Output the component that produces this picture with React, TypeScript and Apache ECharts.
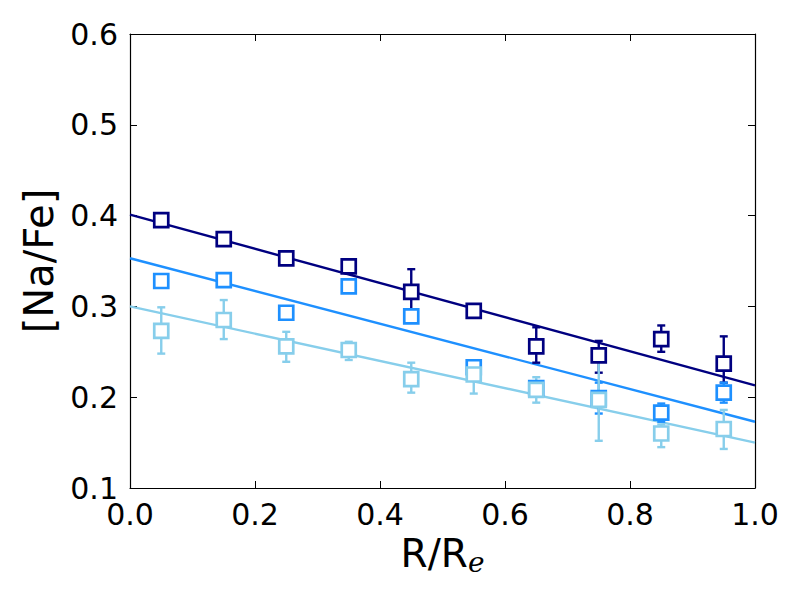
import React, { useEffect, useRef } from "react";
import * as echarts from "echarts";

const radii = [0.05, 0.15, 0.25, 0.35, 0.45, 0.55, 0.65, 0.75, 0.85, 0.95];

const darkY = [0.395, 0.374, 0.353, 0.344, 0.316, 0.295, 0.256, 0.246, 0.264, 0.237];
const darkErrUp = [0.004, 0.004, 0.004, 0.008, 0.025, 0.004, 0.021, 0.016, 0.015, 0.030];
const darkErrDn = [0.004, 0.004, 0.004, 0.008, 0.020, 0.004, 0.018, 0.019, 0.014, 0.021];

const midY = [0.328, 0.329, 0.293, 0.322, 0.289, 0.233, 0.210, 0.199, 0.183, 0.205];
const midErrUp = [0.006, 0.005, 0.005, 0.005, 0.005, 0.005, 0.006, 0.017, 0.010, 0.011];
const midErrDn = [0.006, 0.005, 0.005, 0.005, 0.005, 0.005, 0.006, 0.017, 0.010, 0.011];

const lightY = [0.273, 0.285, 0.256, 0.252, 0.220, 0.225, 0.208, 0.197, 0.160, 0.165];
const lightErrUp = [0.026, 0.022, 0.016, 0.009, 0.018, 0.010, 0.014, 0.045, 0.010, 0.021];
const lightErrDn = [0.025, 0.021, 0.017, 0.011, 0.015, 0.021, 0.014, 0.045, 0.015, 0.022];

const fitX = [0, 1];
const darkFit = [0.401, 0.213];
const midFit = [0.353, 0.173];
const lightFit = [0.3, 0.15];

const xTicks = ["0.0", "0.2", "0.4", "0.6", "0.8", "1.0"];
const yTicks = ["0.1", "0.2", "0.3", "0.4", "0.5", "0.6"];

const DARK = "#000080";
const MID = "#1E90FF";
const LIGHT = "#87CEEB";

function errData(y: number[], up: number[], dn: number[]) {
  return radii.map((x, i) => [x, y[i] - dn[i], y[i] + up[i]]);
}

function errSeries(name: string, color: string, y: number[], up: number[], dn: number[]) {
  return {
    type: "custom",
    name,
    z: 3,
    data: errData(y, up, dn),
    renderItem: (params: any, api: any) => {
      const x = api.value(0);
      const lo = api.coord([x, api.value(1)]);
      const hi = api.coord([x, api.value(2)]);
      const cap = 4;
      const style = { stroke: color, lineWidth: 2.4 };
      return {
        type: "group",
        children: [
          { type: "line", shape: { x1: lo[0], y1: lo[1], x2: hi[0], y2: hi[1] }, style },
          { type: "line", shape: { x1: lo[0] - cap, y1: lo[1], x2: lo[0] + cap, y2: lo[1] }, style },
          { type: "line", shape: { x1: hi[0] - cap, y1: hi[1], x2: hi[0] + cap, y2: hi[1] }, style },
        ],
      };
    },
  };
}

function pointSeries(name: string, color: string, y: number[]) {
  return {
    type: "scatter",
    name,
    z: 4,
    symbol: "rect",
    symbolSize: 14,
    itemStyle: { color: "#ffffff", borderColor: color, borderWidth: 2.7, opacity: 1 },
    data: radii.map((x, i) => [x, y[i]]),
  };
}

function fitSeries(name: string, color: string, y: number[]) {
  return {
    type: "line",
    name,
    z: 2,
    showSymbol: false,
    symbol: "none",
    lineStyle: { color, width: 2.4 },
    data: fitX.map((x, i) => [x, y[i]]),
  };
}

export default function App() {
  const ref = useRef<HTMLDivElement>(null);
  useEffect(() => {
    if (!ref.current) return;
    const chart = echarts.init(ref.current, null, { renderer: "svg" });
    const font = "DejaVu Sans";
    chart.setOption({
      animation: false,
      backgroundColor: "#ffffff",
      textStyle: { fontFamily: font },
      grid: {
        left: 122,
        top: 26,
        right: 37,
        bottom: 104,
        containLabel: false,
        outerBoundsMode: "none",
      },
      xAxis: [
        {
          type: "value",
          min: 0,
          max: 1,
          interval: 0.2,
          name: "{a|R/R}{b|e}",
          nameLocation: "middle",
          nameGap: 42,
          nameTextStyle: {
            rich: {
              a: { fontSize: 39, fontFamily: font, color: "#000" },
              b: { fontSize: 28, fontFamily: "DejaVu Serif", fontStyle: "italic", color: "#000", padding: [18, 0, 0, 0] },
            },
          },
          axisLine: { show: true, onZero: false, lineStyle: { color: "#000", width: 1.2 } },
          axisTick: { show: true, inside: true, length: 7, lineStyle: { color: "#000" } },
          axisLabel: {
            fontSize: 30,
            color: "#000",
            margin: 11,
            fontFamily: font,
            formatter: (v: number) => xTicks[Math.round(v / 0.2)] ?? "",
          },
          splitLine: { show: false },
        },
        {
          type: "value",
          position: "top",
          min: 0,
          max: 1,
          interval: 0.2,
          axisLine: { show: true, onZero: false, lineStyle: { color: "#000", width: 1.2 } },
          axisTick: { show: true, inside: true, length: 7, lineStyle: { color: "#000" } },
          axisLabel: { show: false },
          splitLine: { show: false },
        },
      ],
      yAxis: [
        {
          type: "value",
          min: 0.1,
          max: 0.6,
          interval: 0.1,
          name: "[Na/Fe]",
          nameLocation: "middle",
          nameGap: 68,
          nameRotate: 90,
          nameTextStyle: { fontSize: 40, color: "#000", fontFamily: font },
          axisLine: { show: true, onZero: false, lineStyle: { color: "#000", width: 1.2 } },
          axisTick: { show: true, inside: true, length: 7, lineStyle: { color: "#000" } },
          axisLabel: {
            fontSize: 30,
            color: "#000",
            margin: 12,
            fontFamily: font,
            formatter: (v: number) => yTicks[Math.round((v - 0.1) / 0.1)] ?? "",
          },
          splitLine: { show: false },
        },
        {
          type: "value",
          position: "right",
          min: 0.1,
          max: 0.6,
          interval: 0.1,
          axisLine: { show: true, onZero: false, lineStyle: { color: "#000", width: 1.2 } },
          axisTick: { show: true, inside: true, length: 7, lineStyle: { color: "#000" } },
          axisLabel: { show: false },
          splitLine: { show: false },
        },
      ],
      series: [
        fitSeries("dark fit", DARK, darkFit),
        fitSeries("mid fit", MID, midFit),
        fitSeries("light fit", LIGHT, lightFit),
        errSeries("dark err", DARK, darkY, darkErrUp, darkErrDn),
        errSeries("mid err", MID, midY, midErrUp, midErrDn),
        errSeries("light err", LIGHT, lightY, lightErrUp, lightErrDn),
        pointSeries("dark", DARK, darkY),
        pointSeries("mid", MID, midY),
        pointSeries("light", LIGHT, lightY),
      ],
    });
    return () => chart.dispose();
  }, []);
  return <div ref={ref} style={{ width: 784, height: 584 }} />;
}
